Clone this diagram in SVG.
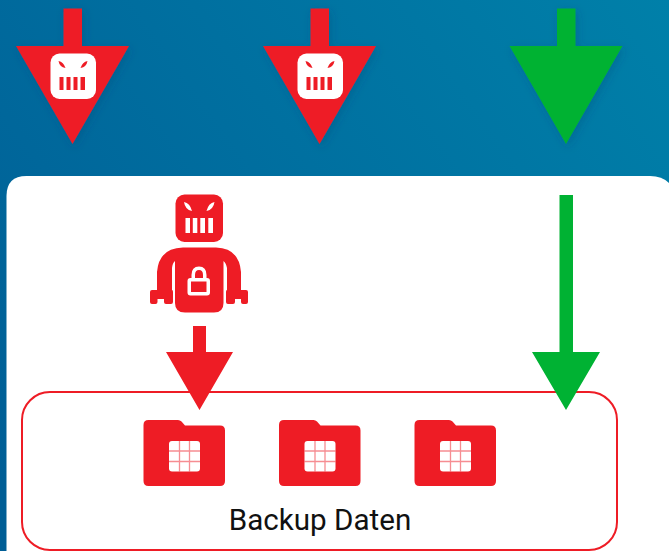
<svg xmlns="http://www.w3.org/2000/svg" width="669" height="551" viewBox="0 0 669 551">
<style>
.r{fill:#ee1c25}.g{fill:#00b233}.w{fill:#fff}
.t{font-family:Roboto,"Liberation Sans",sans-serif;font-size:29.6px;fill:#111;text-anchor:middle}
</style>
<defs>
<linearGradient id="bg" gradientUnits="userSpaceOnUse" x1="0" y1="480" x2="669" y2="0"><stop offset="0" stop-color="#005e96"/><stop offset="1" stop-color="#0080a9"/></linearGradient>
<filter id="sh" x="-30%" y="-30%" width="160%" height="160%"><feDropShadow dx="2" dy="3" stdDeviation="4" flood-color="#003b66" flood-opacity=".25"/></filter>
<path id="face" class="r" d="M58.500 61Q63.500 62 65.500 68Q59.500 67 58.500 61ZM87.500 61Q82.500 62 80.500 68Q86.500 67 87.500 61ZM59.500 77H63.500V90H59.500ZM66.500 77H70.500V90H66.500ZM73.500 77H77.500V90H73.500ZM80.500 77H85V90H80.500Z"/>
<g id="folder">
<path class="r" d="M148.500 420H178Q180 420 181.500 421.500L185 425.500H220Q225 425.500 225 430.500V481Q225 486 220 486H148.500Q143.500 486 143.500 481V425Q143.500 420 148.500 420Z"/>
<rect class="w" x="169" y="441" width="31" height="30.500" rx="3"/>
<path d="M179.500 441V471.500M189.500 441V471.500M169 451H200M169 461.500H200" stroke="#ee1c25" stroke-opacity=".5" stroke-width="1.300" fill="none"/>
</g>
</defs>
<rect width="669" height="551" fill="url(#bg)"/>
<path id="panel" class="w" d="M6.500 551V196Q6.500 176 26.500 176H650Q662 176 669 183V551Z"/>
<g id="robot">
<rect class="r" x="175.500" y="194.500" width="47.500" height="47.500" rx="9"/>
<path class="w" d="M184 202Q190 203 192 211Q185 209.500 184 202ZM214.500 202Q208.500 203 206.500 211Q213.500 209.500 214.500 202ZM185.500 218H190V233H185.500ZM192.800 218H197.300V233H192.800ZM200.300 218H205V233H200.300ZM208.300 218H213V233H208.300Z"/>
<path class="r" d="M183 247.500H216Q239 248 241 272V290H246Q248 290 248 292V302Q248 304 246 304H243Q241 304 241 302V299H235V302Q235 304 233 304H228Q226 304 226 302V292Q226 290 227 290V268Q226 263 223.500 261V303Q223.500 312.500 214 312.500H185Q175 312.500 175 303V261Q172.500 263 172 268V290Q173 290 173 292V302Q173 304 171 304H166Q164 304 164 302V299H157.500V302Q157.500 304 155.500 304H152Q150 304 150 302V292Q150 290 152 290H157V272Q159 248 183 247.500Z"/>
<path class="w" fill-rule="evenodd" d="M191.500 278V275Q191.500 266.500 199 266.500Q206.500 266.500 206.500 275V278H207Q210 278 210 281V292.500Q210 295.500 207 295.500H190.500Q187.500 295.500 187.500 292.500V281Q187.500 278 190.500 278ZM195 278H203V275Q203 270 199 270Q195 270 195 275ZM191 281.500V292H206.500V281.500Z"/>
</g>
<g id="backup-daten">
<rect x="22" y="392" width="595" height="158" rx="28" fill="none" stroke="#ee1c25" stroke-width="2"/>
<use href="#folder"/>
<use href="#folder" x="135.500"/>
<use href="#folder" x="271"/>
<text class="t" x="320" y="530">Backup Daten</text>
</g>
<g id="connectors">
<path class="r" filter="url(#sh)" d="M63.500 8.500H82V46H129L72.500 144 16 46H63.500Z"/>
<path class="r" filter="url(#sh)" d="M310.500 8.500H329V46H376L319.500 144 263 46H310.500Z"/>
<path class="g" filter="url(#sh)" d="M557 8.500H575.500V46H622.500L566 144 509.500 46H557Z"/>
<path class="r" d="M193 326H206V352H233L199.500 410 166 352H193Z"/>
<path class="g" d="M559.500 195H573V352H600L566 410 532 352H559.500Z"/>
</g>
<g id="bot-icon-1">
<rect class="w" x="50.500" y="53.500" width="45.500" height="45.500" rx="9"/>
<use href="#face"/>
</g>
<g id="bot-icon-2">
<rect class="w" x="297.500" y="53.500" width="45.500" height="45.500" rx="9"/>
<use href="#face" x="247"/>
</g>
</svg>
